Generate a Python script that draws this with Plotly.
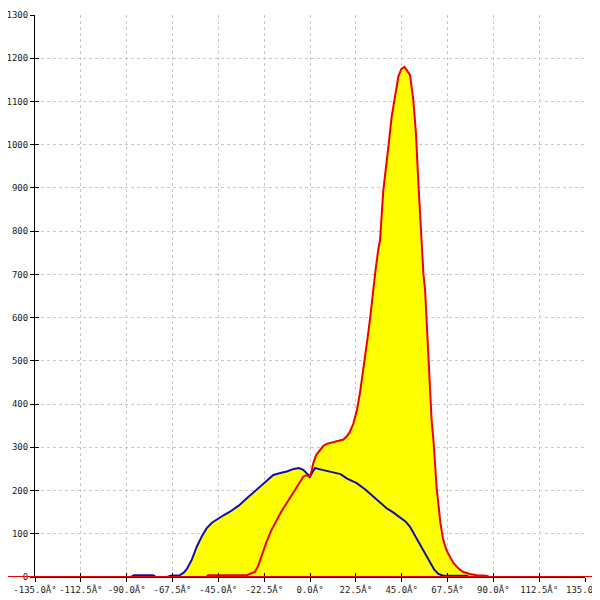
import plotly.graph_objects as go

# 角度分布（两条曲线）
BLUE_X = [-135, -88, -86.5, -77, -75.5, -70, -68.5, -64, -62, -60.5, -58, -55.6, -53,
          -50.7, -48, -45, -42, -39.3, -35, -31, -28, -24.5, -21, -18, -15, -11.4, -8,
          -5.5, -3.3, -1.5, 0, 1.5, 2.5, 5, 8.2, 12, 15, 18, 22.9, 27, 31.1, 34, 37.6,
          41, 45, 47, 49.1, 51.5, 54, 56.5, 58.9, 61, 63, 65.4, 77, 78, 135]
BLUE_Y = [0, 0, 4, 4, 0, 0, 3, 4, 10, 18, 40, 70, 95,
          113, 126, 136, 144, 151, 165, 182, 195, 209, 224, 236, 240, 244, 250,
          252, 248, 240, 232, 245, 252, 249, 246, 242, 238, 228, 217, 203, 186, 172, 159,
          149, 136, 128, 116, 96, 74, 52, 32, 17, 7, 3, 3, 0, 0]

RED_X = [-135, -51, -50, -31, -29, -27, -25.5, -24.5, -23, -21.3, -19, -16.4, -14, -11.4,
         -9, -6.5, -3.3, -1.5, -0.3, 0.8, 1.6, 3, 4.9, 6.5, 8.2, 11, 14.7, 16.4, 18, 19.5,
         21.3, 23, 24.5, 26, 27, 28.2, 29.5, 31, 32, 33.5, 34.4, 36, 37.2, 38.5, 40.1,
         41.7, 43.4, 44.8, 46.3, 47.6, 49.1, 50.7, 52, 53.2, 54.8, 55.7, 56.5, 57.6, 58.9,
         59.7, 60.6, 61.4, 62.2, 63, 64, 65.4, 67, 68.7, 70.5, 72.8, 75, 78.5, 82, 86.7,
         88, 135]
RED_Y = [0, 0, 4, 4, 8, 12, 25, 39, 60, 82, 108, 132, 152, 171,
         190, 209, 232, 236, 231, 245, 263, 282, 294, 303, 308, 311, 315, 318, 325, 335,
         355, 385, 425, 472, 502, 550, 598, 665, 703, 757, 780, 895, 950, 996, 1065,
         1112, 1158, 1175, 1180, 1172, 1161, 1104, 1027, 911, 757, 700, 664, 548, 417,
         363, 317, 248, 205, 171, 125, 86, 62, 47, 32, 20, 12, 7, 4, 3,
         0, 0]

X_TICKS = [-135 + 22.5 * i for i in range(13)]
X_LABELS = [f"{v:.1f}Â°" for v in X_TICKS]
Y_TICKS = list(range(0, 1301, 100))

FONT = dict(family="DejaVu Sans Mono", size=9, color="#222222")
GRID = "#c8c8c8"

fig = go.Figure()

# 先画黄色填充，再画线
for xs, ys in ((BLUE_X, BLUE_Y), (RED_X, RED_Y)):
    fig.add_trace(go.Scatter(x=xs, y=ys, mode="lines", fill="tozeroy",
                             fillcolor="#ffff00", line=dict(width=0),
                             hoverinfo="skip", showlegend=False))
fig.add_trace(go.Scatter(x=BLUE_X, y=BLUE_Y, mode="lines",
                         line=dict(color="#1010a8", width=2), showlegend=False))
fig.add_trace(go.Scatter(x=RED_X, y=RED_Y, mode="lines",
                         line=dict(color="#ee0000", width=2), showlegend=False))
# 辅助轴，仅用于画朝内的刻度
fig.add_trace(go.Scatter(x=[-135], y=[0], xaxis="x2", yaxis="y2", mode="markers",
                         marker=dict(opacity=0), hoverinfo="skip", showlegend=False))

axis_common = dict(showgrid=True, gridcolor=GRID, griddash="3px,3px", gridwidth=1,
                   zeroline=False, showline=True, linecolor="black", linewidth=1,
                   ticks="outside", ticklen=4, tickcolor="black", tickfont=FONT,
                   automargin=False, ticklabeloverflow="allow")

# 页面 body 自带约 8px 边距，边距按此扣减
fig.update_layout(
    width=600, height=600,
    margin=dict(l=27, r=23, t=7, b=31),
    paper_bgcolor="white", plot_bgcolor="white",
    showlegend=False,
    xaxis=dict(range=[-135, 135], tickvals=X_TICKS, ticktext=X_LABELS, **axis_common),
    yaxis=dict(range=[0, 1300], tickvals=Y_TICKS, **axis_common),
    xaxis2=dict(range=[-135, 135], overlaying="x", tickvals=X_TICKS, showticklabels=False,
                ticks="inside", ticklen=4, tickcolor="black", showgrid=False,
                zeroline=False, showline=False, anchor="y2"),
    yaxis2=dict(range=[0, 1300], overlaying="y", tickvals=Y_TICKS, showticklabels=False,
                ticks="inside", ticklen=4, tickcolor="black", showgrid=False,
                zeroline=False, showline=False, anchor="x2"),
    shapes=[dict(type="line", xref="paper", yref="y", x0=-0.07, x1=1.03, y0=0, y1=0,
                 line=dict(color="#ee0000", width=2), layer="above")],
)

fig.write_html("out.html")
